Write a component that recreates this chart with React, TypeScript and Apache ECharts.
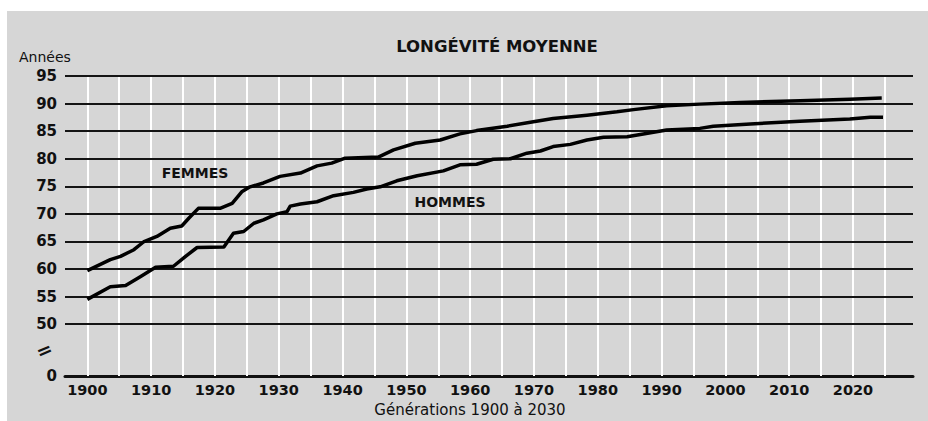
import React, { useEffect, useRef } from "react";
import * as echarts from "echarts";

const femmesYears = [1900, 1903.6, 1905.2, 1907.3, 1908.8, 1910.9, 1913, 1914.8, 1915.9, 1917.4, 1920.8, 1922.7, 1924.2, 1925.5, 1927.6, 1930.2, 1933.4, 1936, 1938.3, 1940.4, 1945.6, 1948, 1951.4, 1955.3, 1958.4, 1961, 1965.8, 1969.9, 1973, 1978.3, 1983, 1985.6, 1990.8, 1996, 2002.3, 2011.7, 2019.5, 2024.5];
const femmesValues = [59.7, 61.7, 62.3, 63.5, 64.9, 65.9, 67.4, 67.8, 69.2, 71.0, 71.0, 71.9, 74.0, 74.9, 75.6, 76.8, 77.4, 78.7, 79.2, 80.1, 80.3, 81.6, 82.8, 83.4, 84.5, 85.1, 85.9, 86.7, 87.3, 87.9, 88.5, 88.9, 89.6, 89.9, 90.2, 90.5, 90.8, 91.0];

const hommesYears = [1900, 1903.6, 1906, 1908.3, 1910.7, 1913.5, 1915.4, 1917.2, 1921.4, 1922.9, 1924.5, 1926.1, 1927.6, 1929.7, 1931.3, 1931.8, 1933.4, 1936, 1938.6, 1941.7, 1943.8, 1945.9, 1948.5, 1951.7, 1955.8, 1958.4, 1961, 1963.6, 1966.3, 1968.9, 1971, 1973, 1975.7, 1978.3, 1980.9, 1984.6, 1990.8, 1996, 1998.1, 2003.9, 2011.7, 2019.5, 2022.7, 2024.7];
const hommesValues = [54.5, 56.8, 57.0, 58.6, 60.3, 60.5, 62.3, 63.9, 64.0, 66.5, 66.8, 68.3, 68.9, 70.0, 70.4, 71.4, 71.8, 72.2, 73.3, 73.9, 74.5, 74.9, 76.0, 76.9, 77.8, 78.9, 79.0, 79.9, 80.0, 81.0, 81.4, 82.2, 82.6, 83.4, 83.9, 84.0, 85.2, 85.5, 85.9, 86.3, 86.8, 87.2, 87.5, 87.5];

const xTickLabels = [1900, 1910, 1920, 1930, 1940, 1950, 1960, 1970, 1980, 1990, 2000, 2010, 2020];
const verticalGridYears = [1900, 1905, 1910, 1915, 1920, 1925, 1930, 1935, 1940, 1945, 1950, 1955, 1960, 1965, 1970, 1975, 1980, 1985, 1990, 1995, 2000, 2005, 2010, 2015, 2020, 2025];
const yTickValues = [50, 55, 60, 65, 70, 75, 80, 85, 90, 95];
const Y_ZERO = 40.6; // position of the "0" baseline below the axis break

const FONT = "'DejaVu Sans', 'Open Sans', sans-serif";

export default function App() {
  const ref = useRef<HTMLDivElement>(null);

  useEffect(() => {
    document.body.style.margin = "0";
    const chart = echarts.init(ref.current!, null, { renderer: "svg" });
    const zip = (xs: number[], ys: number[]) => xs.map((x, i) => [x, ys[i]]);

    chart.setOption({
      animation: false,
      backgroundColor: "#ffffff",
      grid: { left: 65, right: 15, top: 76, bottom: 45 },
      graphic: [
        { type: "rect", z: -10, shape: { x: 7, y: 11, width: 921, height: 410 }, style: { fill: "#d6d6d6" } },
        { type: "text", x: 497, y: 46, style: { text: "LONGÉVITÉ MOYENNE", font: `bold 16.5px ${FONT}`, fill: "#111", textAlign: "center", textVerticalAlign: "middle" } },
        { type: "text", x: 19, y: 57, style: { text: "Années", font: `14px ${FONT}`, fill: "#111", textAlign: "left", textVerticalAlign: "middle" } },
        { type: "text", x: 470, y: 410, style: { text: "Générations 1900 à 2030", font: `15px ${FONT}`, fill: "#111", textAlign: "center", textVerticalAlign: "middle" } },
        { type: "text", x: 44, y: 350, rotation: 0.4, style: { text: "=", font: `bold 19px ${FONT}`, fill: "#111", textAlign: "center", textVerticalAlign: "middle" } },
        { type: "text", x: 195, y: 173, z: 10, style: { text: "FEMMES", font: `bold 14px ${FONT}`, fill: "#111", textAlign: "center", textVerticalAlign: "middle" } },
        { type: "text", x: 450, y: 202, z: 10, style: { text: "HOMMES", font: `bold 14px ${FONT}`, fill: "#111", textAlign: "center", textVerticalAlign: "middle" } },
      ],
      xAxis: {
        type: "value",
        min: 1896.5,
        max: 2029.4,
        axisLine: { show: true, lineStyle: { color: "#111", width: 3 } },
        axisTick: { show: false },
        splitLine: { show: false },
        axisLabel: {
          customValues: xTickLabels,
          formatter: (v: number) => String(v),
          color: "#111",
          fontFamily: FONT,
          fontWeight: "bold",
          fontSize: 14.5,
          margin: 6,
        },
      },
      yAxis: {
        type: "value",
        min: Y_ZERO,
        max: 95,
        axisLine: { show: false },
        axisTick: { show: false },
        splitLine: { show: false },
        axisLabel: {
          customValues: [Y_ZERO, ...yTickValues],
          formatter: (v: number) => (v < 45 ? "0" : String(v)),
          color: "#111",
          fontFamily: FONT,
          fontWeight: "bold",
          fontSize: 15,
          margin: 8,
        },
      },
      series: [
        {
          type: "line",
          data: [],
          z: 1,
          silent: true,
          markLine: {
            silent: true,
            symbol: "none",
            label: { show: false },
            lineStyle: { color: "#ffffff", width: 2, type: "solid" },
            data: verticalGridYears.map((y) => ({ xAxis: y })),
          },
        },
        {
          type: "line",
          data: [],
          z: 2,
          silent: true,
          markLine: {
            silent: true,
            symbol: "none",
            label: { show: false },
            lineStyle: { color: "#151515", width: 2, type: "solid" },
            data: yTickValues.map((v) => ({ yAxis: v })),
          },
        },
        {
          name: "Femmes",
          type: "line",
          z: 5,
          data: zip(femmesYears, femmesValues),
          showSymbol: false,
          lineStyle: { color: "#000", width: 3.5, join: "round" },
        },
        {
          name: "Hommes",
          type: "line",
          z: 5,
          data: zip(hommesYears, hommesValues),
          showSymbol: false,
          lineStyle: { color: "#000", width: 3.5, join: "round" },
        },
      ],
    });

    return () => chart.dispose();
  }, []);

  return <div ref={ref} style={{ width: 928, height: 421 }} />;
}
